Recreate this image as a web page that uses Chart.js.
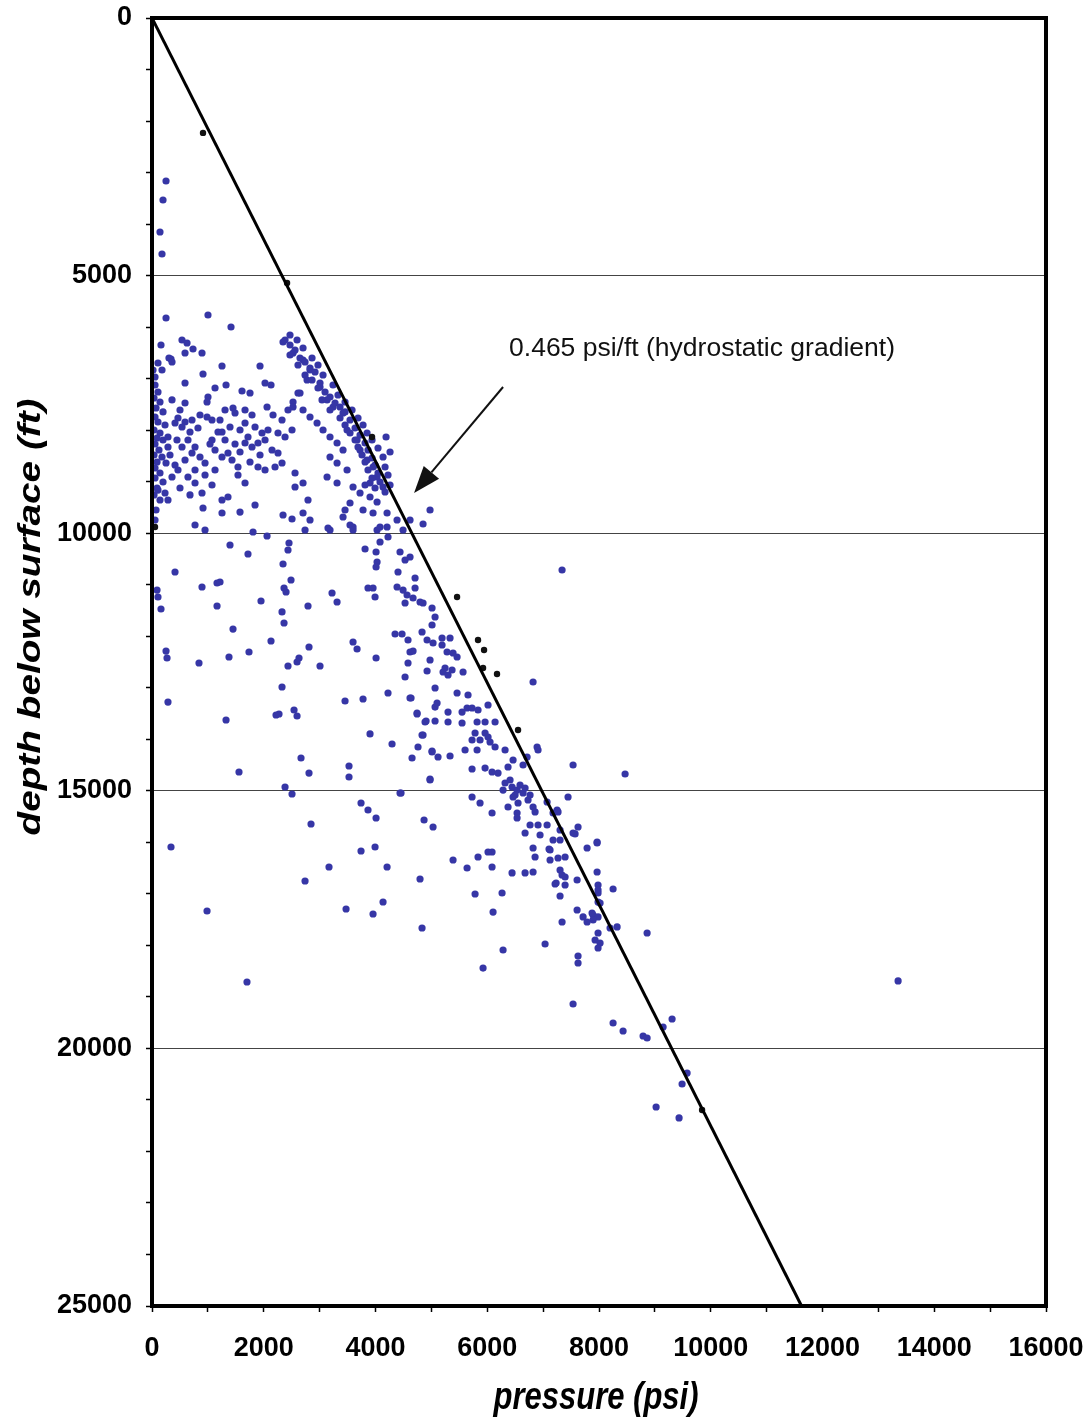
<!DOCTYPE html>
<html>
<head>
<meta charset="utf-8">
<script src="https://cdn.jsdelivr.net/npm/chart.js@4.4.1/dist/chart.umd.min.js"></script>
<style>
  html, body { margin: 0; padding: 0; background: #ffffff; }
  #wrap { width: 1088px; height: 1423px; }
</style>
</head>
<body>
<div id="wrap"><canvas id="c" width="1088" height="1423"></canvas></div>
<script>
// ---- Data: [pressure (psi), depth (ft)] ----
const blueShallow = [
[251,3164],[197,3533],[143,4154],[179,4581],[251,5823],[1002,5765],[1414,5998],
[537,6250],[627,6308],[591,6502],[734,6425],[895,6502],[161,6347],[340,6619],[107,6696],[179,6832],[54,6968],[1253,6755],[1933,6755],[913,6910],[591,7085],[1325,7123],[1128,7182],[1611,7240],[1754,7279],[2023,7085],[2130,7123],[304,6599],[358,6677],[18,6832]
];
const blueLeftColumn = [
[54,7123],[107,7259],[36,7376],[143,7453],[72,7570],[197,7647],[54,7745],[107,7842],[233,7900],[36,7997],[143,8055],[90,8152],[197,8191],[54,8269],[286,8327],[125,8385],[36,8482],[179,8521],[90,8618],[251,8637],[54,8734],[143,8832],[54,8929],[197,9006],[90,9123],[36,9258],[143,9356],[72,9550],[54,9744]
];
const blueLeftCluster = [
[358,7414],[591,7473],[1002,7356],[985,7453],[1307,7609],[1450,7570],[1486,7667],[1665,7609],[1790,7706],[2059,7550],[2166,7706],[465,7764],[412,7861],[591,7842],[537,7939],[716,7803],[823,7958],[985,7745],[1074,7803],[1217,7803],[1253,8036],[1396,7939],[1575,7997],[1665,7861],[1844,7939],[1969,8055],[2076,7997],[2255,8055],[2381,8133],[2506,7997],[2327,7803],[2434,7609],[2524,7453],[2613,7279],
[286,8133],[447,8191],[537,8327],[644,8191],[770,8327],[716,8443],[859,8521],[949,8637],[1074,8191],[1128,8385],[1253,8521],[1360,8443],[1432,8579],[1539,8715],[1665,8249],[1790,8327],[1897,8249],[2023,8191],[2148,8385],[2255,8443],[2327,8637],[2202,8715],[2023,8773],[1897,8715],
[358,8909],[465,8773],[644,8909],[770,9026],[895,9220],[1074,9064],[1253,9356],[1360,9297],[1539,8870],[1665,9026],[1844,9453],[2560,8832],[2703,9026],[2560,9103],[2792,9356],[233,9220],[286,9356],[107,9162],
[501,7609],[680,8036],[859,7706],[1038,8269],[1181,8036],[1307,8191],[1486,8269],[1718,8133],[1933,8482],[1754,8618],[1575,8424],[322,8482],[412,8676],[591,8579],[770,8773],[949,8870],[1128,8773],[501,9123],[680,9258]
];
const blueBand = [
[2470,6153],[2345,6289],[2524,6502],[2703,6638],[2828,6832],[2775,7026],[3007,7162],[3133,7414],[3240,7550],[3419,7667],[3544,7803],[3491,7997],[3670,8191],[3723,8385],[3849,8579],[3956,8715],[4028,8909],[3902,9026],[4135,9103],
[2381,6250],[2470,6347],[2560,6444],[2470,6541],[2649,6599],[2739,6677],[2613,6735],[2828,6794],[2918,6871],[2739,6929],[2864,7026],[3007,7085],[2971,7182],[3097,7259],[3186,7356],[3043,7414],[3276,7473],[3365,7550],[3186,7609],[3455,7647],[3365,7764],[3455,7900],[3634,7958],[3544,8055],[3723,8094],[3634,8191],[3813,8249],[3687,8327],[3866,8385],[3759,8482],[3938,8540],[3813,8618],[3992,8676],[3866,8773],[4045,8832],[3938,8929],[4081,9006],[3992,9123],[4171,9200],
[2649,7279],[2524,7550],[2703,7609],[2828,7745],[2954,7861],[3061,7997],[3186,8133],[3312,8249],[3419,8385],[3186,8521],[3312,8637],[3491,8773],[3133,8909],[3312,9026],[3598,9103],[3723,9220],[3902,9297],[4028,9394],
[2596,6250],[2703,6405],[2864,6599],[2971,6735],[3061,6929],[3240,7123],[3329,7318],[3455,7453],[3580,7609],[3687,7764],[3777,7900],[3849,8055],[3938,8191],[4045,8346],[4135,8521],[4171,8715],[4224,8870],[3813,9064],[4260,9064],
[4189,8133],[4260,8424],[4976,9550],[4851,9821]
];
const blueNear10k = [
[2345,9647],[2506,9724],[2703,9608],[2828,9744],[3419,9686],[3598,9880],[3777,9550],[3956,9608],[4081,9880],[4207,9608],[4386,9744],[4493,9938],[4618,9744],[3544,9414],[3186,9938],[913,9511],[1253,9608],[1575,9589],[3455,9550],
[770,9841],[949,9938],[1808,9977],[2059,10054],[2739,9938],[3150,9900],[3544,9841],[3598,9938],[4028,9938],[4207,9880],[4224,10074],[4081,10171]
];
const blueMidLeft = [
[1396,10229],[1718,10404],[2452,10190],[2434,10326],[2345,10598],[412,10753],[895,11044],[1164,10967],[1217,10947],[90,11103],[107,11238],[161,11471],[1164,11413],[1951,11316],[2363,11064],[2399,11141],[2488,10908],[2327,11529],[2363,11743],[1450,11860],[2130,12092],[2792,11413],[3222,11161],[3312,11335],[2810,12209],[2631,12422],[2596,12500],[2434,12578],[3007,12578],[3598,12112],[3670,12248],[4010,12422],[3866,11064],[3956,11064],[3992,11238],[4010,10365],[4028,10559],[4010,10656],[3813,10307],
[251,12287],[269,12422],[841,12519],[1378,12403],[1736,12306],[286,13277],[1325,13626],[2327,12985],[2220,13529],[2273,13509],[2542,13432],[2596,13548],[3455,13257],[3777,13218],[4224,13102],[3902,13897],[4296,14092],[2667,14363],[1557,14635],[2810,14655],[3526,14519],[3526,14732],[2381,14926],[2506,15062],[3741,15237],[3866,15373],[4010,15528],[2846,15644],[340,16091],[3741,16168],[3992,16091],[3168,16479],[4207,16479],[4457,15043],[4869,15567],[5030,15703]
];
const blueMidRight = [
[4439,10365],[4529,10520],[4618,10462],[4403,10753],[4708,10870],[4386,11044],[4493,11103],[4565,11200],[4708,11064],[4672,11258],[4529,11355],[4851,11355],[5012,11452],[5066,11627],[5012,11782],[4350,11957],[4475,11957],[4582,12073],[4833,11918],[4923,12073],[5030,12131],[4618,12306],[4672,12287],[4582,12519],[4976,12461],[4529,12791],[4923,12675],[5066,13005],[4636,13199],[5066,13374],[4744,13509],[4905,13645],[5066,13645],[4851,13917],[4761,14150],[4654,14363],[5012,14247],[4976,14771],
[4797,11335],[5191,12034],[5334,12034],[5191,12170],[5281,12306],[5388,12325],[5460,12403],[5209,12694],[5298,12752],[5245,12617],[5370,12655],[5567,12694],[5460,13102],[5656,13141],[4618,13199],[5639,13393],[5728,13393],[5835,13432],[6014,13335],[5549,13471],[5102,13296],[5298,13471],[4744,13490],[4887,13665],[5298,13665],[5549,13684],[5818,13665],[5961,13665],[6140,13665],[5782,13878],[5961,13878],[5728,14014],[5871,14014],[6014,13956],[6140,14150],[6050,14053],[4833,13917],
[5012,14228],[5119,14344],[5334,14325],[5603,14208],[5818,14208],[6319,14208],[6462,14402],[6641,14499],[6372,14538],[5728,14577],[5961,14558],[6086,14635],[6193,14655],[6713,14344],[6892,14150],[6909,14208],[7536,14499],[8467,14674],[7339,10714],[6820,12888]
];
const blueCluster15k = [
[6319,14849],[6444,14926],[6534,14985],[6587,14888],[6641,15043],[6462,15120],[6372,15314],[6551,15237],[6730,15179],[6820,15314],[5728,15120],[5871,15237],[4976,14790],[4439,15043],[6086,15431],[6534,15431],[7071,15217],[7446,15120],[7250,15373],[6408,14790],[6498,15082],[6677,14946],[6283,14985],[6766,15082]
];
const blueDeep = [
[6534,15528],[6856,15411],[7178,15431],[7267,15411],[6766,15664],[6909,15664],[7071,15664],[6677,15819],[6945,15858],[7303,15761],[7625,15703],[7572,15838],[7178,15955],[7303,15955],[7966,15994],[7787,16110],[6820,16110],[6856,16285],[7124,16149],[7124,16343],[7267,16304],[7393,16285],[6086,16188],[6014,16188],[6086,16479],[6444,16595],[6677,16595],[6820,16576],[7303,16537],[7339,16634],[7393,16673],[7214,16809],[7393,16828],[7608,16731],[7966,16576],[7983,16828],[7983,16984],[8252,16906],[6265,16984],[7303,17042],[8019,17178],[6104,17353],[7608,17314],[7715,17449],[7787,17547],[7894,17411],[7983,17449],[7894,17508],[8198,17663],[8324,17643],[7339,17547],[8861,17760],[7983,17760],[7930,17896],[8019,17954],[7983,18051],[7035,17974],[6283,18090],[5925,18440],[7625,18207],[7625,18342],[7536,19138],[8252,19507],[8431,19662],[8789,19759],[8861,19798],[9308,19429],[9147,19585],[9577,20478],[9487,20691],[9022,21137],[9433,21350],[13353,18691],
[985,17333],[1700,18711],[2739,16751],[3473,17294],[4135,17158],[3956,17391],[4797,16712],[4833,17663],[5388,16343],[5639,16498],[5782,17003],[5835,16285],[7106,16130],[7232,16790],[7876,17372],[7983,16926],[7983,17158],[7966,16013],[7536,15819]
];
const blackSamples = [
[913,2230],[2417,5144],[54,9880],[3938,8133],[5460,11238],[5835,12073],[5943,12267],[5925,12617],[6175,12733],[6551,13820],[9845,21195]
];

// hydrostatic gradient line: 0.465 psi/ft
const gradientPressure = [0, 11625];
const gradientDepth    = [0, 25000];

const xTickLabels = [0, 2000, 4000, 6000, 8000, 10000, 12000, 14000, 16000];
const yTickLabels = [0, 5000, 10000, 15000, 20000, 25000];

const xTitle = 'pressure (psi)';
const yTitle = 'depth below surface (ft)';
const noteText = '0.465 psi/ft (hydrostatic gradient)';
const noteAnchor = [6390, 6561];          // text start (psi, ft)
const arrowFrom = [6283, 7162];           // arrow tail (psi, ft)
const arrowTo = [4690, 9220];             // arrow tip (psi, ft)

const toPts = (arr) => arr.map(p => ({ x: p[0], y: p[1] }));
const blueAll = [].concat(blueShallow, blueLeftColumn, blueLeftCluster, blueBand, blueNear10k,
                          blueMidLeft, blueMidRight, blueCluster15k, blueDeep);

const decorPlugin = {
  id: 'decor',
  beforeDraw(chart) {
    const ctx = chart.ctx;
    ctx.save();
    ctx.fillStyle = '#ffffff';
    ctx.fillRect(0, 0, chart.width, chart.height);
    ctx.restore();
  },
  afterDraw(chart) {
    const ctx = chart.ctx;
    const a = chart.chartArea;
    const xs = chart.scales.x, ys = chart.scales.y;
    ctx.save();
    // plot frame
    ctx.strokeStyle = '#000';
    ctx.lineWidth = 4;
    ctx.strokeRect(a.left, a.top, a.right - a.left, a.bottom - a.top);

    // annotation text
    ctx.fillStyle = '#111';
    ctx.font = '26.5px "Liberation Sans", Arial, sans-serif';
    ctx.textAlign = 'left';
    ctx.textBaseline = 'alphabetic';
    ctx.fillText(noteText, xs.getPixelForValue(noteAnchor[0]), ys.getPixelForValue(noteAnchor[1]));

    // arrow
    const x1 = xs.getPixelForValue(arrowFrom[0]), y1 = ys.getPixelForValue(arrowFrom[1]);
    const x2 = xs.getPixelForValue(arrowTo[0]), y2 = ys.getPixelForValue(arrowTo[1]);
    const ang = Math.atan2(y2 - y1, x2 - x1);
    const headLen = 27, headHalf = 10;
    const bx = x2 - headLen * Math.cos(ang), by = y2 - headLen * Math.sin(ang);
    ctx.strokeStyle = '#111';
    ctx.lineWidth = 2;
    ctx.beginPath();
    ctx.moveTo(x1, y1);
    ctx.lineTo(bx, by);
    ctx.stroke();
    ctx.beginPath();
    ctx.moveTo(x2, y2);
    ctx.lineTo(bx + headHalf * Math.sin(ang), by - headHalf * Math.cos(ang));
    ctx.lineTo(bx - headHalf * Math.sin(ang), by + headHalf * Math.cos(ang));
    ctx.closePath();
    ctx.fillStyle = '#111';
    ctx.fill();

    // axis titles (bold italic, slightly stretched like the scanned original)
    ctx.fillStyle = '#000';
    ctx.font = 'italic bold 31px "Liberation Sans", Arial, sans-serif';
    ctx.textAlign = 'center';
    ctx.textBaseline = 'middle';
    ctx.save();
    ctx.translate((a.left + a.right) / 2 - 3, a.bottom + 92);
    ctx.scale(1, 1.25);
    ctx.fillText(xTitle, 0, 0);
    ctx.restore();
    ctx.save();
    ctx.translate(a.left - 121, a.top + 599);
    ctx.rotate(-Math.PI / 2);
    ctx.scale(1.25, 1);
    ctx.fillText(yTitle, 0, 0);
    ctx.restore();
    ctx.restore();
  }
};

new Chart(document.getElementById('c'), {
  type: 'scatter',
  data: {
    datasets: [
      {
        type: 'line',
        data: gradientPressure.map((p, i) => ({ x: p, y: gradientDepth[i] })),
        borderColor: '#000',
        borderWidth: 3,
        pointRadius: 0,
        fill: false
      },
      {
        data: toPts(blackSamples),
        backgroundColor: '#111',
        borderWidth: 0,
        pointRadius: 3.2
      },
      {
        data: toPts(blueAll),
        backgroundColor: 'rgb(54,54,166)',
        borderWidth: 0,
        pointRadius: 3.6
      }
    ]
  },
  options: {
    responsive: false,
    devicePixelRatio: 1,
    animation: false,
    layout: { padding: { top: 18, right: 42, bottom: 0, left: 0 } },
    plugins: { legend: { display: false }, tooltip: { enabled: false } },
    scales: {
      x: {
        type: 'linear',
        min: 0, max: 16000,
        afterFit: (s) => { s.height = 117; s.paddingLeft = 0; s.paddingRight = 0; },
        border: { display: false },
        grid: { drawOnChartArea: false, drawTicks: true, tickLength: 6, tickColor: '#000', tickWidth: 1.5 },
        ticks: {
          stepSize: 1000,
          autoSkip: false,
          maxRotation: 0,
          padding: 20,
          color: '#000',
          font: { family: '"Liberation Sans", Arial, sans-serif', size: 27, weight: 'bold' },
          callback: (v) => xTickLabels.includes(v) ? String(v) : ''
        }
      },
      y: {
        type: 'linear',
        reverse: true,
        min: 0, max: 25000,
        afterFit: (s) => { s.width = 152; s.paddingTop = 0; s.paddingBottom = 0; },
        border: { display: false },
        grid: {
          drawTicks: true, tickLength: 6, tickColor: '#000', tickWidth: 1.5,
          lineWidth: 1,
          color: (c) => (c.tick && yTickLabels.includes(c.tick.value)) ? '#444' : 'rgba(0,0,0,0)'
        },
        ticks: {
          stepSize: 1000,
          autoSkip: false,
          padding: 14,
          color: '#000',
          font: { family: '"Liberation Sans", Arial, sans-serif', size: 27, weight: 'bold' },
          callback: (v) => yTickLabels.includes(v) ? String(v) : ''
        }
      }
    }
  },
  plugins: [decorPlugin]
});
</script>
</body>
</html>
